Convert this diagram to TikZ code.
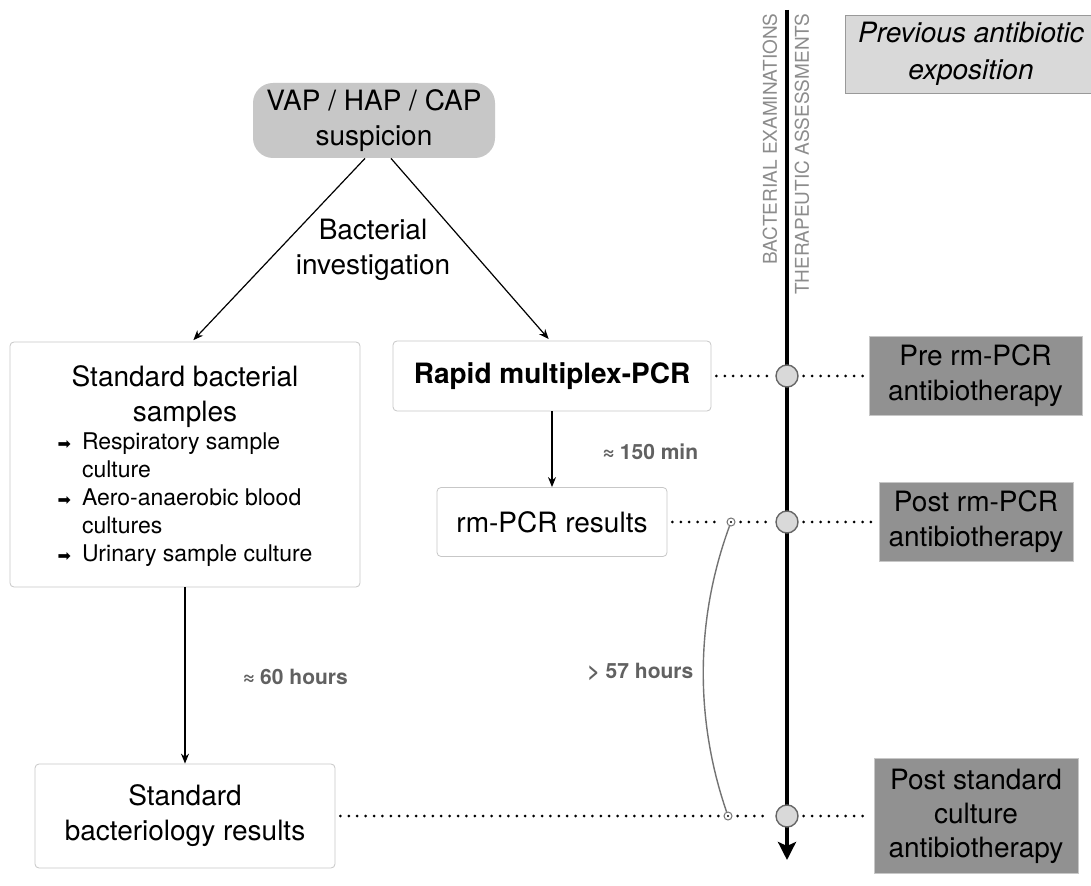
\documentclass[tikz,border=0pt]{standalone}
\usepackage{fontspec}
\setmainfont{TeX Gyre Heros}
\newfontfamily\symfont{DejaVu Sans}
\usetikzlibrary{arrows.meta}
\definecolor{panel}{gray}{0.57}
\definecolor{pale}{gray}{0.85}
\definecolor{shade}{gray}{0.78}
\definecolor{note}{gray}{0.38}

\begin{document}
\begin{tikzpicture}[x=0.5pt, y=-0.5pt,
		every node/.style={font=\fontsize{14}{17.5}\selectfont, align=center, inner sep=0pt},
		card/.style={draw=black!22, fill=white, rounded corners=2pt},
		grey/.style={draw=black!22, fill=panel},
		hub/.style={circle, draw=black!60, fill=pale, minimum size=11pt, line width=0.7pt},
		tick/.style={circle, draw=black!55, minimum size=4pt, line width=0.5pt,
			path picture={\fill [black] (path picture bounding box.center) circle (0.6pt);}},
		delay/.style={font=\bfseries\fontsize{10.5}{12}\selectfont, text=note},
		axis/.style={text=black!45, font=\fontsize{9.5}{10}\selectfont, rotate=90, anchor=east},
		link/.style={line width=1.5pt, line cap=round, dash pattern=on 0pt off 4.2pt, shorten <=2.5pt, shorten >=2.5pt},
		flow/.style={-{Stealth[length=5pt, width=4pt]}, line width=0.6pt}]
		\useasboundingbox [fill=white] (0, 0) rectangle (1091, 886);

		\node [fill=shade, rounded corners=10pt, minimum width=121pt, minimum height=37.5pt] (0) at (374, 120.5) {VAP / HAP / CAP\\suspicion};
		\node [] (1) at (373, 250) {Bacterial\\investigation};
		\node [card, minimum width=175pt, minimum height=122.5pt] (2) at (185, 464.5) {\\[-4pt]Standard bacterial\\samples\\
			{\fontsize{11.5}{14}\selectfont\begin{tabular}{@{}l@{\hspace{5.5pt}}l@{}}
				{\symfont\fontsize{8}{8}\selectfont ➡} & Respiratory sample\\
				& culture\\
				{\symfont\fontsize{8}{8}\selectfont ➡} & Aero-anaerobic blood\\
				& cultures\\
				{\symfont\fontsize{8}{8}\selectfont ➡} & Urinary sample culture
			\end{tabular}}};
		\node [card, font=\bfseries\fontsize{14}{17.5}\selectfont, minimum width=159pt, minimum height=35pt] (3) at (552, 376) {Rapid multiplex-PCR};
		\node [card, minimum width=115pt, minimum height=34.5pt] (4) at (552, 522) {rm-PCR results};
		\node [card, minimum width=150pt, minimum height=52pt] (5) at (185, 816) {Standard\\bacteriology results};
		\node [grey, minimum width=106.5pt, minimum height=39.5pt] (6) at (975.5, 376) {Pre rm-PCR\\antibiotherapy};
		\node [grey, minimum width=97pt, minimum height=39.5pt] (7) at (976, 522) {Post rm-PCR\\antibiotherapy};
		\node [grey, font=\fontsize{14}{17}\selectfont, minimum width=102pt, minimum height=57.5pt] (8) at (976, 816) {Post standard\\culture\\antibiotherapy};
		\node [draw=black!40, fill=pale, font=\itshape\fontsize{14}{18.5}\selectfont, minimum width=126pt, minimum height=39pt] (9) at (971, 54) {Previous antibiotic\\exposition};

		% time axis
		\coordinate (10) at (787, 10);
		\coordinate (11) at (787, 860);
		\draw [line width=2.4pt, -{Stealth[length=9pt, width=9pt, inset=2pt]}] (10) to (11);
		\node [axis] (12) at (770, 13) {BACTERIAL EXAMINATIONS};
		\node [axis] (13) at (802, 13) {THERAPEUTIC ASSESSMENTS};
		\node [hub] (14) at (787, 376) {};
		\node [hub] (15) at (787, 522) {};
		\node [hub] (16) at (787, 816) {};
		\node [tick] (17) at (731, 522) {};
		\node [tick] (18) at (728, 816) {};

		\draw [flow, shorten >=1pt] ([xshift=-4.5pt]0.south) to ([xshift=3.5pt]2.north);
		\draw [flow, shorten >=1pt] ([xshift=8.5pt]0.south) to ([xshift=-1pt]3.north);
		\draw [flow] (3) to (4);
		\draw [flow] (2) to (5);

		\draw [link] (3) to (14);
		\draw [link] (14) to (6);
		\draw [link] (4) to (17);
		\draw [link] (17) to (15);
		\draw [link] (15) to (7);
		\draw [link] (5) to (18);
		\draw [link] (18) to (16);
		\draw [link] (16) to (8);
		\draw [black!55, line width=0.7pt] (17) .. controls (695, 620) and (695, 720) .. (18);

		\node [delay] (19) at (650, 452) {≈ 150 min};
		\node [delay] (20) at (295, 677) {≈ 60 hours};
		\node [delay] (21) at (640.5, 672) {> 57 hours};
\end{tikzpicture}
\end{document}
